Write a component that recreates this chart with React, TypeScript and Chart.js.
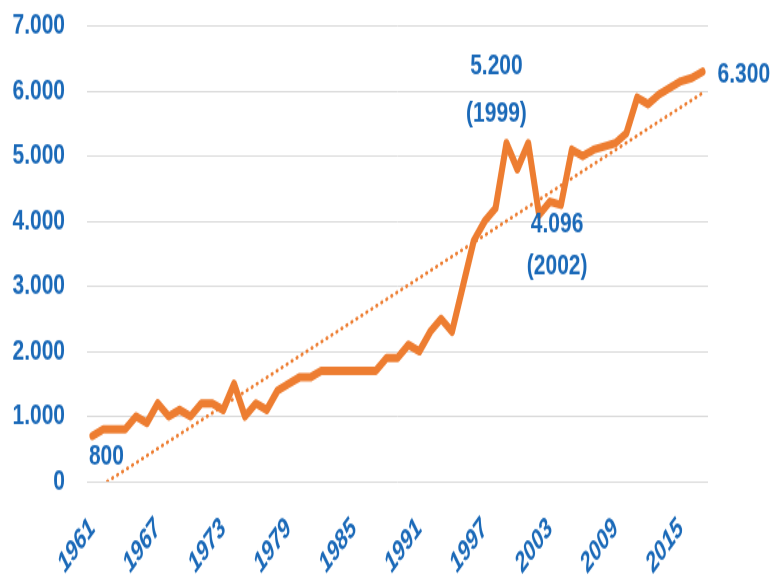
import React, { useEffect, useRef } from 'react';
import { Chart, registerables } from 'chart.js';

Chart.register(...registerables);

const years = [
  '1961', '1962', '1963', '1964', '1965', '1966', '1967', '1968', '1969', '1970',
  '1971', '1972', '1973', '1974', '1975', '1976', '1977', '1978', '1979', '1980',
  '1981', '1982', '1983', '1984', '1985', '1986', '1987', '1988', '1989', '1990',
  '1991', '1992', '1993', '1994', '1995', '1996', '1997', '1998', '1999', '2000',
  '2001', '2002', '2003', '2004', '2005', '2006', '2007', '2008', '2009', '2010',
  '2011', '2012', '2013', '2014', '2015', '2016', '2017',
];

const production = [
  700, 800, 800, 800, 1000, 900, 1200, 1000, 1100, 1000,
  1200, 1200, 1100, 1500, 1000, 1200, 1100, 1400, 1500, 1600,
  1600, 1700, 1700, 1700, 1700, 1700, 1700, 1900, 1900, 2100,
  2000, 2300, 2500, 2300, 3000, 3700, 4000, 4200, 5200, 4800,
  5200, 4096, 4300, 4250, 5100, 5000, 5100, 5150, 5200, 5350,
  5900, 5800, 5950, 6050, 6150, 6200, 6300,
];

// linear trend line end values (1961 and 2017)
const trendStart = -150;
const trendEnd = 5970;

const xTickLabels = ['1961', '1967', '1973', '1979', '1985', '1991', '1997', '2003', '2009', '2015'];
const yTickValues = [0, 1000, 2000, 3000, 4000, 5000, 6000, 7000];
const yTickLabels = ['0', '1.000', '2.000', '3.000', '4.000', '5.000', '6.000', '7.000'];

const calloutYears = ['1961', '1999', '2002', '2017'];
const calloutTexts = [['800'], ['5.200', '(1999)'], ['4.096', '(2002)'], ['6.300']];

// layout / style (kept apart from data)
const W = 773;
const H = 578;
const STRETCH = 1.4;
const DRAW_H = Math.round(H / STRETCH);
const BLUE = '#1a69b8';
const ORANGE = '#ED7D31';
const FONT = "'Liberation Sans', Arial, sans-serif";

const calloutPlacement = [
  { dx: 14, dy: [14.3], align: 'center' },
  { dx: -10, dy: [-55, -21.5], align: 'center' },
  { dx: 18, dy: [7, 37], align: 'center' },
  { dx: 15, dy: [2.5], align: 'left' },
];

const calloutPlugin = {
  id: 'callouts',
  afterDatasetsDraw(chart: any) {
    const { ctx } = chart;
    const meta = chart.getDatasetMeta(0);
    ctx.save();
    ctx.fillStyle = BLUE;
    ctx.font = `bold 21px ${FONT}`;
    ctx.textBaseline = 'middle';
    calloutYears.forEach((yr, k) => {
      const idx = years.indexOf(yr);
      const pt = meta.data[idx];
      if (!pt) return;
      const place = calloutPlacement[k];
      ctx.textAlign = place.align;
      calloutTexts[k].forEach((line, j) => {
        ctx.fillText(line, pt.x + place.dx, pt.y + place.dy[j]);
      });
    });
    ctx.restore();
  },
};

export default function App() {
  const canvasRef = useRef<HTMLCanvasElement | null>(null);

  useEffect(() => {
    document.body.style.margin = '0';
    const canvas = canvasRef.current;
    if (!canvas) return;
    const last = years.length - 1;
    const trendData = years.map((_, i) => (i === 0 ? trendStart : i === last ? trendEnd : null));

    const chart = new Chart(canvas, {
      type: 'line',
      data: {
        labels: years,
        datasets: [
          {
            data: production,
            borderColor: ORANGE,
            backgroundColor: ORANGE,
            borderWidth: 6,
            pointRadius: 0,
            tension: 0,
            borderJoinStyle: 'round',
            borderCapStyle: 'round',
            fill: false,
          },
          {
            data: trendData,
            borderColor: ORANGE,
            borderWidth: 2.6,
            borderDash: [0.5, 5],
            borderCapStyle: 'round',
            pointRadius: 0,
            spanGaps: true,
            tension: 0,
            fill: false,
          },
        ],
      },
      options: {
        responsive: false,
        animation: false,
        devicePixelRatio: 1,
        layout: { padding: { top: 18.6, right: 65, bottom: 0, left: 0 } },
        plugins: {
          legend: { display: false },
          tooltip: { enabled: false },
        },
        scales: {
          x: {
            offset: true,
            grid: { display: false, drawTicks: false },
            border: { display: false },
            ticks: {
              autoSkip: false,
              minRotation: 45,
              maxRotation: 45,
              padding: 22,
              color: BLUE,
              font: { family: FONT, size: 20, weight: 'bold', style: 'italic' },
              callback: (_v: any, i: number) => (xTickLabels.includes(years[i]) ? years[i] : ''),
            },
            afterFit: (s: any) => {
              s.height = DRAW_H - 344;
            },
          },
          y: {
            min: 0,
            max: 7000,
            grid: {
              color: '#d9d9d9',
              lineWidth: 1,
              drawTicks: true,
              tickLength: 22,
              tickColor: 'rgba(0,0,0,0)',
            },
            border: { display: false },
            ticks: {
              stepSize: 1000,
              padding: 0,
              color: BLUE,
              font: { family: FONT, size: 21, weight: 'bold' },
              callback: (v: any) => {
                const k = yTickValues.indexOf(Number(v));
                return k >= 0 ? yTickLabels[k] : '';
              },
            },
            afterFit: (s: any) => {
              s.width = 87;
            },
          },
        },
      },
      plugins: [calloutPlugin],
    } as any);

    return () => chart.destroy();
  }, []);

  return (
    <div style={{ width: W, height: H, background: '#fff' }}>
      <canvas
        ref={canvasRef}
        width={W}
        height={DRAW_H}
        style={{ width: W, height: H, display: 'block' }}
      />
    </div>
  );
}
